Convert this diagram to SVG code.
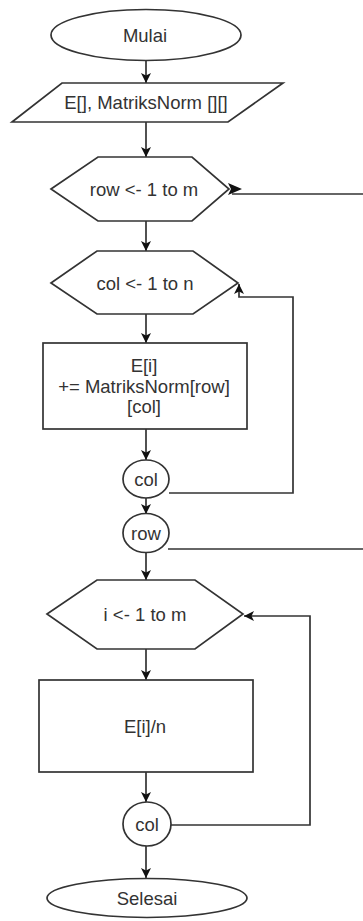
<svg xmlns="http://www.w3.org/2000/svg" width="363" height="921" viewBox="0 0 363 921">
  <defs>
    <marker id="arrow" viewBox="0 0 10 10" refX="10" refY="5" markerWidth="10" markerHeight="10" markerUnits="userSpaceOnUse" orient="auto">
      <path d="M0,0 L10,5 L0,10 L2.5,5 Z" fill="#111"/>
    </marker>
    <style>
      .shape { fill: #fff; stroke: #333; stroke-width: 1.7; }
      .label { font-family: "Liberation Sans", Arial, sans-serif; font-size: 18.5px; fill: #333; text-anchor: middle; }
      .edge { fill: none; stroke: #333; stroke-width: 1.7; }
    </style>
  </defs>
  <rect width="363" height="921" fill="#fff"/>

  <!-- connectors -->
  <g id="connectors">
    <path class="edge" d="M146 61 V83" marker-end="url(#arrow)"/>
    <path class="edge" d="M146 122 V157" marker-end="url(#arrow)"/>
    <path class="edge" d="M146 221 V251" marker-end="url(#arrow)"/>
    <path class="edge" d="M146 314 V343" marker-end="url(#arrow)"/>
    <path class="edge" d="M146 429 V460" marker-end="url(#arrow)"/>
    <path class="edge" d="M146 498 V514" marker-end="url(#arrow)"/>
    <path class="edge" d="M146 552 V580" marker-end="url(#arrow)"/>
    <path class="edge" d="M146 649 V680" marker-end="url(#arrow)"/>
    <path class="edge" d="M146 772 V802" marker-end="url(#arrow)"/>
    <path class="edge" d="M146 846 V878" marker-end="url(#arrow)"/>
    <!-- inner loop: col back to col <- 1 to n -->
    <path class="edge" d="M169 493 H293 V297 H239 V284" marker-end="url(#arrow)"/>
    <!-- outer loop: row back to row <- 1 to m -->
    <path class="edge" d="M168 549 H363"/>
    <path class="edge" d="M363 194 H232"/>
    <polygon points="228,183 242,189 228,195 231,189" fill="#111"/>
    <!-- loop: col back to i <- 1 to m -->
    <path class="edge" d="M171 825 H310 V616 H244" marker-end="url(#arrow)"/>
  </g>

  <g id="start">
    <ellipse class="shape" cx="146" cy="35" rx="95" ry="25.5"/>
    <text class="label" x="145" y="42">Mulai</text>
  </g>

  <g id="input">
    <polygon class="shape" points="62,83 283,83 228,122 12,122"/>
    <text class="label" x="146" y="109">E[], MatriksNorm [][]</text>
  </g>

  <g id="loop-row">
    <polygon class="shape" points="51,189 98,157 192,157 229,189 192,221 98,221"/>
    <text class="label" x="144" y="196">row &lt;- 1 to m</text>
  </g>

  <g id="loop-col">
    <polygon class="shape" points="51,283 97,251 193,251 238,283 193,314 97,314"/>
    <text class="label" x="145" y="290">col &lt;- 1 to n</text>
  </g>

  <g id="sum">
    <rect class="shape" x="43" y="343" width="204" height="86"/>
    <text class="label" x="144" y="372">E[i]</text>
    <text class="label" x="144" y="393">+= MatriksNorm[row]</text>
    <text class="label" x="144" y="413">[col]</text>
  </g>

  <g id="end-col">
    <ellipse class="shape" cx="146" cy="479" rx="23" ry="19"/>
    <text class="label" x="146" y="486">col</text>
  </g>

  <g id="end-row">
    <ellipse class="shape" cx="146" cy="533" rx="23" ry="19.5"/>
    <text class="label" x="146" y="540">row</text>
  </g>

  <g id="loop-i">
    <polygon class="shape" points="47,614 97,580 195,580 243,614 195,649 97,649"/>
    <text class="label" x="145" y="621">i &lt;- 1 to m</text>
  </g>

  <g id="divide">
    <rect class="shape" x="39" y="680" width="214" height="92"/>
    <text class="label" x="145" y="733">E[i]/n</text>
  </g>

  <g id="end-i">
    <ellipse class="shape" cx="147" cy="824" rx="24" ry="22"/>
    <text class="label" x="147" y="831">col</text>
  </g>

  <g id="finish">
    <ellipse class="shape" cx="147" cy="898" rx="100" ry="19.5"/>
    <text class="label" x="147" y="905">Selesai</text>
  </g>
</svg>
